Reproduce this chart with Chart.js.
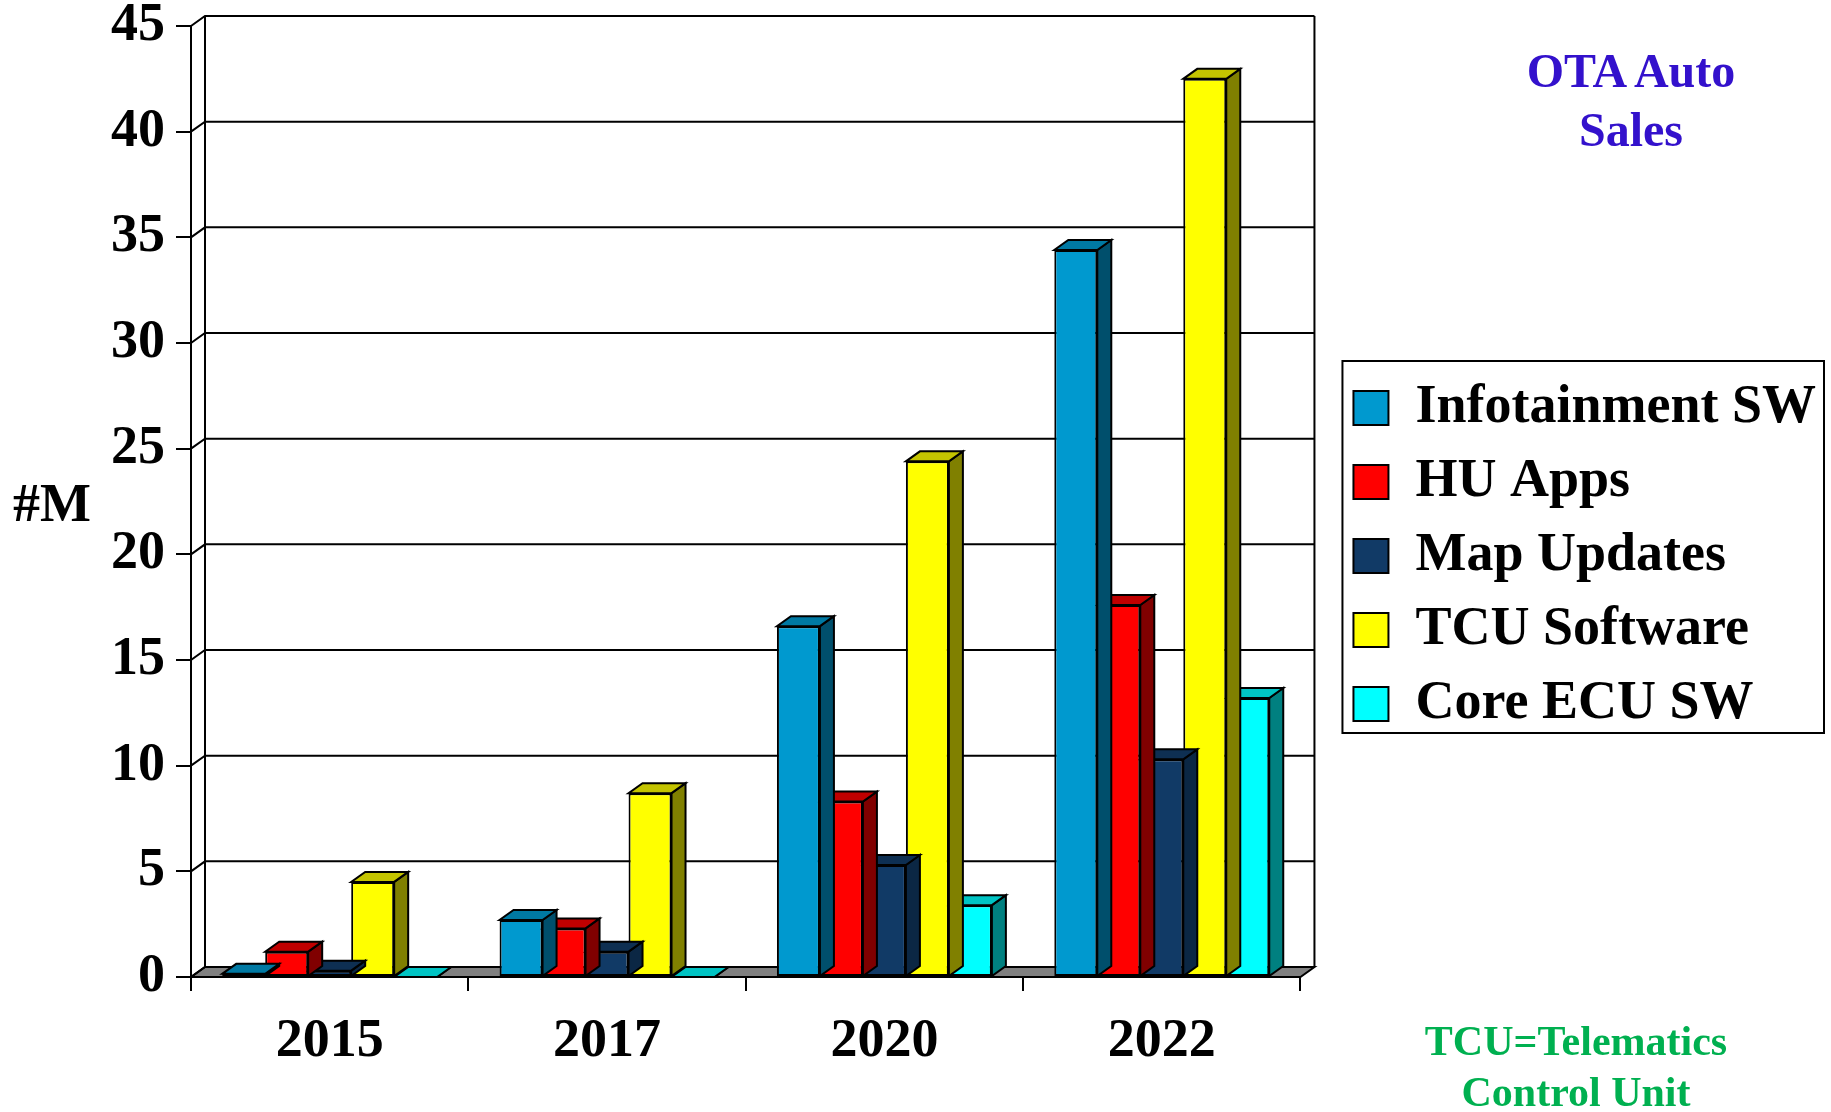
<!DOCTYPE html>
<html>
<head>
<meta charset="utf-8">
<title>OTA Auto Sales</title>
<script src="https://cdn.jsdelivr.net/npm/chart.js@4.4.1/dist/chart.umd.min.js"></script>
<style>
  html, body { margin: 0; padding: 0; background: #fff; }
  #wrap { position: relative; width: 1831px; height: 1112px; overflow: hidden; }
  .note { position: absolute; font-family: "Liberation Serif", "Times New Roman", serif; font-weight: bold; text-align: center; white-space: nowrap; }
  #title { left: 1481px; width: 300px; top: 41px; font-size: 48px; line-height: 59px; color: #3311cc; }
  #unit { left: 13px; top: 473px; font-size: 54px; line-height: 60px; color: #000; }
  #footer { left: 1376px; width: 400px; top: 1016px; font-size: 42px; line-height: 51px; color: #00b050; }
</style>
</head>
<body>
<div id="wrap">
  <canvas id="otaChart"></canvas>
  <div class="note" id="title">OTA Auto<br>Sales</div>
  <div class="note" id="unit">#M</div>
  <div class="note" id="footer">TCU=Telematics<br>Control Unit</div>
</div>
<script>
// Dados (milhões)
const years = ['2015', '2017', '2020', '2022'];
const seriesNames = ['Infotainment SW', 'HU Apps', 'Map Updates', 'TCU Software', 'Core ECU SW'];
const infotainment = [0.15, 2.7, 16.6, 34.4];
const huApps = [1.2, 2.3, 8.3, 17.6];
const mapUpdates = [0.3, 1.2, 5.3, 10.3];
const tcuSoftware = [4.5, 8.7, 24.4, 42.5];
const coreEcu = [0, 0, 3.4, 13.2];
const yMax = 45;
const yStep = 5;

// cores: frente, topo, lateral
const frontColors = ['#0099cf', '#ff0000', '#113a66', '#ffff00', '#00ffff'];
const topColors = ['#0079a3', '#c00000', '#0e2f52', '#c4c400', '#00c4c4'];
const sideColors = ['#004f6c', '#800000', '#0b2744', '#808000', '#008080'];

const DX = 14, DY = 10;
const font = 'Liberation Serif';

function poly(ctx, pts, fill) {
  ctx.beginPath();
  ctx.moveTo(pts[0][0], pts[0][1]);
  for (let i = 1; i < pts.length; i++) ctx.lineTo(pts[i][0], pts[i][1]);
  ctx.closePath();
  if (fill) { ctx.fillStyle = fill; ctx.fill(); }
  ctx.stroke();
}

// paredes, piso e linhas de grade no fundo
const walls = {
  id: 'walls',
  beforeDraw(chart) {
    const { ctx, chartArea: a, scales: { y } } = chart;
    ctx.save();
    ctx.strokeStyle = '#000';
    ctx.lineWidth = 2;
    poly(ctx, [[a.left, a.bottom], [a.right, a.bottom], [a.right + DX, a.bottom - DY], [a.left + DX, a.bottom - DY]], '#808080');
    y.ticks.forEach(t => {
      const py = y.getPixelForValue(t.value);
      ctx.beginPath();
      ctx.moveTo(a.left, py);
      ctx.lineTo(a.left + DX, py - DY);
      ctx.lineTo(a.right + DX, py - DY);
      ctx.stroke();
    });
    ctx.beginPath();
    ctx.moveTo(a.left + DX, a.bottom - DY);
    ctx.lineTo(a.left + DX, a.top - DY);
    ctx.moveTo(a.right + DX, a.bottom - DY);
    ctx.lineTo(a.right + DX, a.top - DY);
    ctx.stroke();
    ctx.restore();
  },
  // topo e lateral de cada barra antes da face frontal
  beforeDatasetDraw(chart, args) {
    const ctx = chart.ctx;
    const i = args.index;
    ctx.save();
    ctx.strokeStyle = '#000';
    ctx.lineWidth = 2;
    ctx.lineJoin = 'miter';
    args.meta.data.forEach(bar => {
      const { x, y, base, width } = bar.getProps(['x', 'y', 'base', 'width'], true);
      const l = x - width / 2, r = x + width / 2;
      poly(ctx, [[r, y], [r + DX, y - DY], [r + DX, base - DY], [r, base]], sideColors[i]);
      poly(ctx, [[l, y], [r, y], [r + DX, y - DY], [l + DX, y - DY]], topColors[i]);
    });
    ctx.restore();
  },
  // moldura da legenda
  afterDraw(chart) {
    const boxes = chart.legend.legendHitBoxes;
    if (!boxes || !boxes.length) return;
    const ctx = chart.ctx;
    const left = boxes[0].left - 11;
    const top = boxes[0].top - 20;
    const last = boxes[boxes.length - 1];
    const bottom = last.top + last.height + 2;
    const right = Math.max(...boxes.map(b => b.left + b.width)) + 8;
    ctx.save();
    ctx.strokeStyle = '#000';
    ctx.lineWidth = 2;
    ctx.strokeRect(left, top, right - left, bottom - top);
    ctx.restore();
  }
};

const seriesData = [infotainment, huApps, mapUpdates, tcuSoftware, coreEcu];

const datasets = seriesNames.map((name, i) => ({
  label: name,
  data: seriesData[i],
  yAxisID: 'y',
  backgroundColor: frontColors[i],
  borderColor: '#000',
  borderWidth: 2,
  borderSkipped: false,
  categoryPercentage: 0.775,
  barPercentage: 1.0
}));

const tickFont = { family: font, size: 54, weight: 'bold' };

new Chart(document.getElementById('otaChart'), {
  type: 'bar',
  data: { labels: years, datasets: datasets },
  options: {
    responsive: true,
    maintainAspectRatio: false,
    animation: false,
    events: [],
    layout: { padding: { top: 26, bottom: 26, left: 0, right: 5 } },
    plugins: {
      tooltip: { enabled: false },
      legend: {
        position: 'right',
        align: 'center',
        maxWidth: 520,
        labels: {
          font: tickFont,
          color: '#000',
          boxWidth: 35,
          boxHeight: 34,
          padding: 20
        }
      }
    },
    scales: {
      x: {
        offset: true,
        grid: { display: true, offset: true, drawOnChartArea: false, drawTicks: true, tickLength: 14, color: '#000', lineWidth: 2 },
        border: { display: true, color: '#000', width: 2 },
        ticks: { font: tickFont, color: '#000', padding: 19, maxRotation: 0 },
        afterFit(s) { s.height = 109; s.paddingLeft = 0; s.paddingRight = 0; }
      },
      y: {
        min: 0,
        max: yMax,
        grid: { display: true, drawOnChartArea: false, drawTicks: true, tickLength: 15, color: '#000', lineWidth: 2 },
        border: { display: true, color: '#000', width: 2 },
        ticks: { stepSize: yStep, font: tickFont, color: '#000', padding: 11 },
        afterFit(s) { s.width = 191; s.paddingTop = 0; s.paddingBottom = 0; }
      },
      gap: {
        type: 'linear',
        position: 'right',
        display: true,
        grid: { display: false },
        border: { display: false },
        ticks: { display: false },
        afterFit(s) { s.width = 33; s.paddingTop = 0; s.paddingBottom = 0; }
      }
    }
  },
  plugins: [walls]
});
</script>
</body>
</html>
